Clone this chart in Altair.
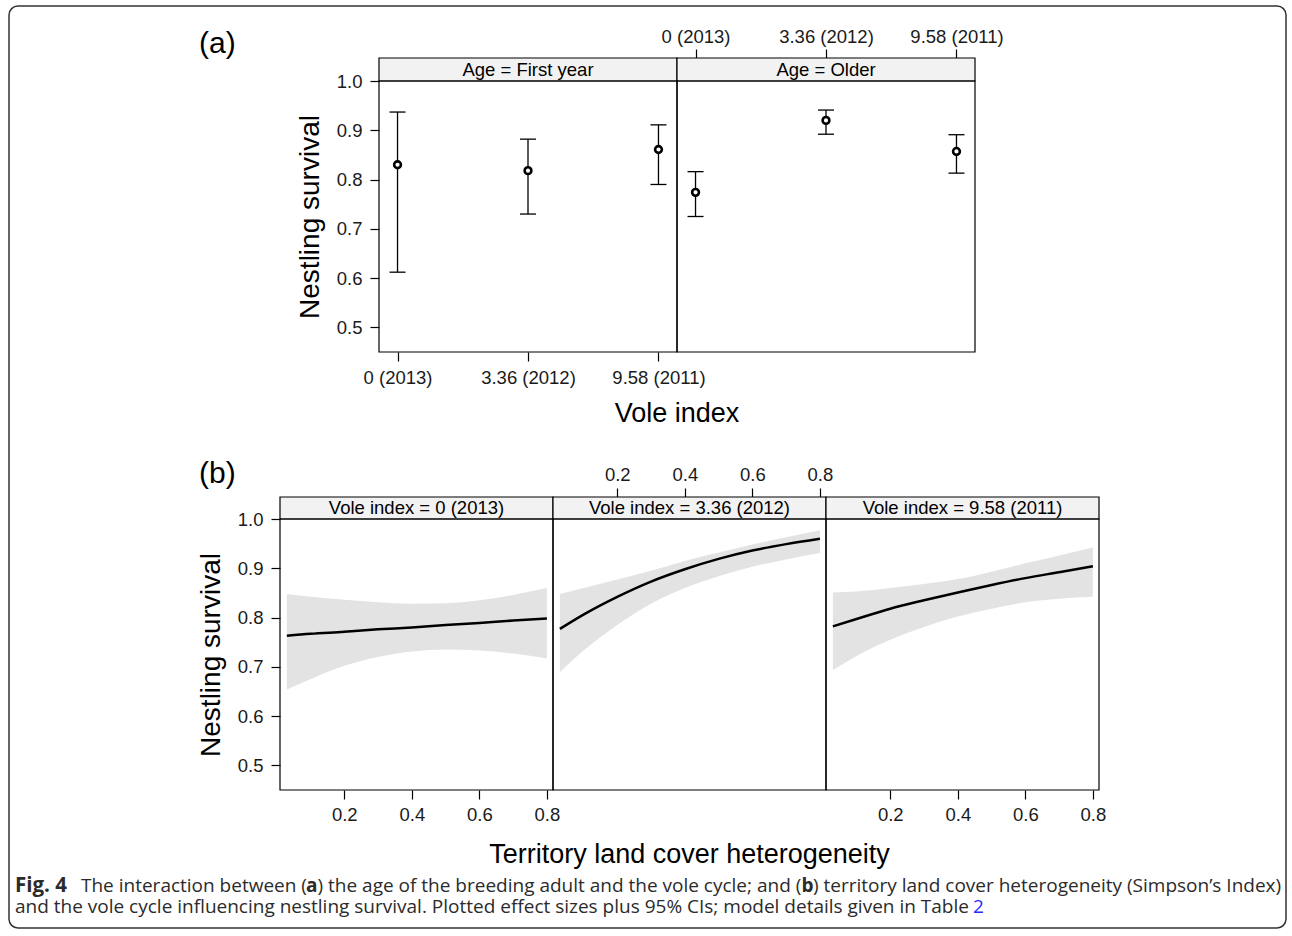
import altair as alt
import pandas as pd

FIG_FONT = "Liberation Sans"
CAP_FONT = "Open Sans"

# ---------------- data: panel (a) ----------------
vole_labels = ["0 (2013)", "3.36 (2012)", "9.58 (2011)"]
age_groups = ["First year", "Older"]
a_est_first = [0.830, 0.818, 0.861]
a_lo_first = [0.612, 0.730, 0.790]
a_hi_first = [0.937, 0.882, 0.911]
a_est_older = [0.774, 0.920, 0.857]
a_lo_older = [0.725, 0.892, 0.813]
a_hi_older = [0.816, 0.941, 0.891]

# ---------------- data: panel (b) ----------------
vole_years = ["0 (2013)", "3.36 (2012)", "9.58 (2011)"]
heterogeneity = [0.03, 0.1, 0.2, 0.3, 0.4, 0.5, 0.6, 0.7, 0.8]
b_fit_2013 = [0.763, 0.767, 0.771, 0.776, 0.780, 0.785, 0.789, 0.794, 0.798]
b_lo_2013 = [0.654, 0.675, 0.702, 0.720, 0.731, 0.735, 0.733, 0.727, 0.717]
b_hi_2013 = [0.848, 0.842, 0.836, 0.831, 0.828, 0.829, 0.835, 0.846, 0.860]
b_fit_2012 = [0.777, 0.806, 0.842, 0.873, 0.898, 0.919, 0.936, 0.949, 0.960]
b_lo_2012 = [0.689, 0.733, 0.785, 0.828, 0.860, 0.884, 0.903, 0.918, 0.931]
b_hi_2012 = [0.848, 0.860, 0.877, 0.895, 0.915, 0.932, 0.948, 0.963, 0.977]
b_fit_2011 = [0.782, 0.797, 0.818, 0.835, 0.851, 0.866, 0.880, 0.892, 0.904]
b_lo_2011 = [0.693, 0.722, 0.755, 0.781, 0.802, 0.818, 0.831, 0.838, 0.842]
b_hi_2011 = [0.851, 0.853, 0.860, 0.868, 0.878, 0.893, 0.910, 0.926, 0.942]

# ---------------- layout (pixels inside the single plot group) ----------------
W, H = 819, 732
XA = [99, 397, 695]            # panel (a) column edges
XB = [0, 273, 546, 819]        # panel (b) column edges
A_STRIP, A_TOP, A_BOT = 0, 23, 294
B_STRIP, B_TOP, B_BOT = 439, 461, 732

Y_DOMAIN = [0.45, 1.0]
Y_TICKS = [0.5, 0.6, 0.7, 0.8, 0.9, 1.0]
X_TICKS_B = [0.2, 0.4, 0.6, 0.8]
X_DOMAIN_B = [0.0097, 0.818]

AXIS_COMMON = dict(domain=False, grid=False, ticks=True, tickColor="black",
                   tickSize=9, tickWidth=1.2, labelFont=FIG_FONT,
                   labelFontSize=18.5, labelColor="#1a1a1a")

ONE = pd.DataFrame({"d": [0]})


def y_axis(offset):
    return alt.Axis(orient="left", offset=offset, values=Y_TICKS, format=".1f",
                    title="Nestling survival", titleFont=FIG_FONT, titleFontSize=28,
                    titleFontWeight="normal", titleColor="black", titlePadding=12,
                    labelPadding=8, **AXIS_COMMON)


def text_layer(text, x, y, size, font=FIG_FONT, align="left", weight="normal",
               color="black", baseline="alphabetic"):
    return alt.Chart(pd.DataFrame({"t": [text]})).mark_text(
        font=font, fontSize=size, align=align, baseline=baseline,
        fontWeight=weight, color=color
    ).encode(text="t:N", x=alt.value(x), y=alt.value(y))


def box(x0, x1, y0, y1, fill):
    return alt.Chart(ONE).mark_rect(fill=fill, stroke="black", strokeWidth=1.2).encode(
        x=alt.value(x0), x2=alt.value(x1), y=alt.value(y0), y2=alt.value(y1))


# ---------------- panel (a) ----------------
def panel_a(est, lo, hi, x0, x1, xaxis, yaxis):
    df = pd.DataFrame({"vole": vole_labels, "est": est, "lo": lo, "hi": hi})
    xscale = alt.Scale(type="point", domain=vole_labels, range=[x0, x1], padding=0.142)
    yscale = alt.Scale(domain=Y_DOMAIN, range=[A_BOT, A_TOP], nice=False, zero=False)
    x = alt.X("vole:N", scale=xscale, axis=xaxis, sort=vole_labels)
    base = alt.Chart(df)
    rule = base.mark_rule(color="black", strokeWidth=1.3).encode(
        x=x, y=alt.Y("lo:Q", scale=yscale, axis=yaxis), y2="hi:Q")
    cap_lo = base.mark_tick(orient="horizontal", size=16, thickness=1.3,
                            color="black", opacity=1).encode(x=x, y="lo:Q")
    cap_hi = base.mark_tick(orient="horizontal", size=16, thickness=1.3,
                            color="black", opacity=1).encode(x=x, y="hi:Q")
    pts = base.mark_point(shape="circle", size=46, strokeWidth=2.6,
                          color="black", fill="white", filled=False,
                          opacity=1).encode(x=x, y="est:Q")
    return alt.layer(rule, cap_lo, cap_hi, pts)


axA1x = alt.Axis(orient="bottom", offset=A_BOT - H, title=None, labelAngle=0,
                 labelPadding=7, **AXIS_COMMON)
axA2x = alt.Axis(orient="top", offset=-A_STRIP, title=None, labelAngle=0,
                 labelPadding=3, **AXIS_COMMON)
panelA1 = panel_a(a_est_first, a_lo_first, a_hi_first, XA[0], XA[1], axA1x, y_axis(-XA[0]))
panelA2 = panel_a(a_est_older, a_lo_older, a_hi_older, XA[1], XA[2], axA2x, None)


# ---------------- panel (b) ----------------
def panel_b(fit, lo, hi, x0, x1, xaxis, yaxis):
    df = pd.DataFrame({"h": heterogeneity, "fit": fit, "lo": lo, "hi": hi})
    xscale = alt.Scale(domain=X_DOMAIN_B, range=[x0, x1], nice=False, zero=False)
    yscale = alt.Scale(domain=Y_DOMAIN, range=[B_BOT, B_TOP], nice=False, zero=False)
    x = alt.X("h:Q", scale=xscale, axis=xaxis)
    base = alt.Chart(df)
    band = base.mark_area(color="#e3e3e3", opacity=1, interpolate="monotone").encode(
        x=x, y=alt.Y("lo:Q", scale=yscale, axis=yaxis), y2="hi:Q")
    line = base.mark_line(color="black", strokeWidth=2.5, interpolate="monotone").encode(
        x=x, y="fit:Q")
    return alt.layer(band, line)


def axB(orient, offset):
    return alt.Axis(orient=orient, offset=offset, title=None, values=X_TICKS_B,
                    format=".1f", labelPadding=6 if orient == "bottom" else 4,
                    **AXIS_COMMON)


panelB1 = panel_b(b_fit_2013, b_lo_2013, b_hi_2013, XB[0], XB[1], axB("bottom", 0), y_axis(0))
panelB2 = panel_b(b_fit_2012, b_lo_2012, b_hi_2012, XB[1], XB[2], axB("top", -B_STRIP), None)
panelB3 = panel_b(b_fit_2011, b_lo_2011, b_hi_2011, XB[2], XB[3], axB("bottom", 0), None)

# ---------------- strips and frames ----------------
strips = [
    box(XA[0], XA[1], A_STRIP, A_TOP, "#f2f2f2"),
    box(XA[1], XA[2], A_STRIP, A_TOP, "#f2f2f2"),
    box(XB[0], XB[1], B_STRIP, B_TOP, "#f2f2f2"),
    box(XB[1], XB[2], B_STRIP, B_TOP, "#f2f2f2"),
    box(XB[2], XB[3], B_STRIP, B_TOP, "#f2f2f2"),
]
frames = [
    box(XA[0], XA[1], A_TOP, A_BOT, "transparent"),
    box(XA[1], XA[2], A_TOP, A_BOT, "transparent"),
    box(XB[0], XB[1], B_TOP, B_BOT, "transparent"),
    box(XB[1], XB[2], B_TOP, B_BOT, "transparent"),
    box(XB[2], XB[3], B_TOP, B_BOT, "transparent"),
]
strip_labels = [
    text_layer("Age = " + age_groups[0], (XA[0] + XA[1]) / 2, (A_STRIP + A_TOP) / 2, 18.5,
               align="center", baseline="middle"),
    text_layer("Age = " + age_groups[1], (XA[1] + XA[2]) / 2, (A_STRIP + A_TOP) / 2, 18.5,
               align="center", baseline="middle"),
] + [
    text_layer("Vole index = " + vole_years[i], (XB[i] + XB[i + 1]) / 2,
               (B_STRIP + B_TOP) / 2, 18.5, align="center", baseline="middle")
    for i in range(3)
]

titles = [
    text_layer("(a)", -81, -5, 30),
    text_layer("(b)", -81, 425, 30),
    text_layer("Vole index", XA[1], 363.5, 27, align="center"),
    text_layer("Territory land cover heterogeneity", (XB[0] + XB[3]) / 2, 805, 27,
               align="center"),
]

# ---------------- caption and outer border ----------------
CAP_COLOR = "#2b2b2b"
CAP_SIZE = 19
L1, L2 = 834, 855
caption = [
    text_layer("Fig. 4", -265, L1, 20.5, font=CAP_FONT, weight="bold", color=CAP_COLOR),
    text_layer("The interaction between (", -199, L1, CAP_SIZE, font=CAP_FONT, color=CAP_COLOR),
    text_layer("a", 26, L1, CAP_SIZE, font=CAP_FONT, weight="bold", color=CAP_COLOR),
    text_layer(") the age of the breeding adult and the vole cycle; and (", 37.5, L1,
               CAP_SIZE, font=CAP_FONT, color=CAP_COLOR),
    text_layer("b", 521.5, L1, CAP_SIZE, font=CAP_FONT, weight="bold", color=CAP_COLOR),
    text_layer(") territory land cover heterogeneity (Simpson\u2019s Index)", 533, L1,
               CAP_SIZE, font=CAP_FONT, color=CAP_COLOR),
    text_layer("and the vole cycle influencing nestling survival. Plotted effect sizes "
               "plus 95% CIs; model details given in Table", -265, L2, CAP_SIZE,
               font=CAP_FONT, color=CAP_COLOR),
    text_layer("2", 693, L2, CAP_SIZE, font=CAP_FONT, color="#2a2aff"),
]

border = alt.Chart(ONE).mark_rect(
    fill="transparent", stroke="#333333", strokeWidth=1.5, cornerRadius=9
).encode(x=alt.value(-271), x2=alt.value(1006), y=alt.value(-52), y2=alt.value(870))

chart = alt.layer(
    border, *strips, panelB1, panelB2, panelB3, panelA1, panelA2, *frames,
    *strip_labels, *titles, *caption
).resolve_scale(x="independent", y="independent").resolve_axis(
    x="independent", y="independent"
).properties(
    width=W, height=H,
    padding={"left": 8, "top": 5, "right": 5, "bottom": 7},
    background="white",
).configure_view(stroke="transparent")

chart.save("out.html", embed_options={"renderer": "svg", "actions": False})
